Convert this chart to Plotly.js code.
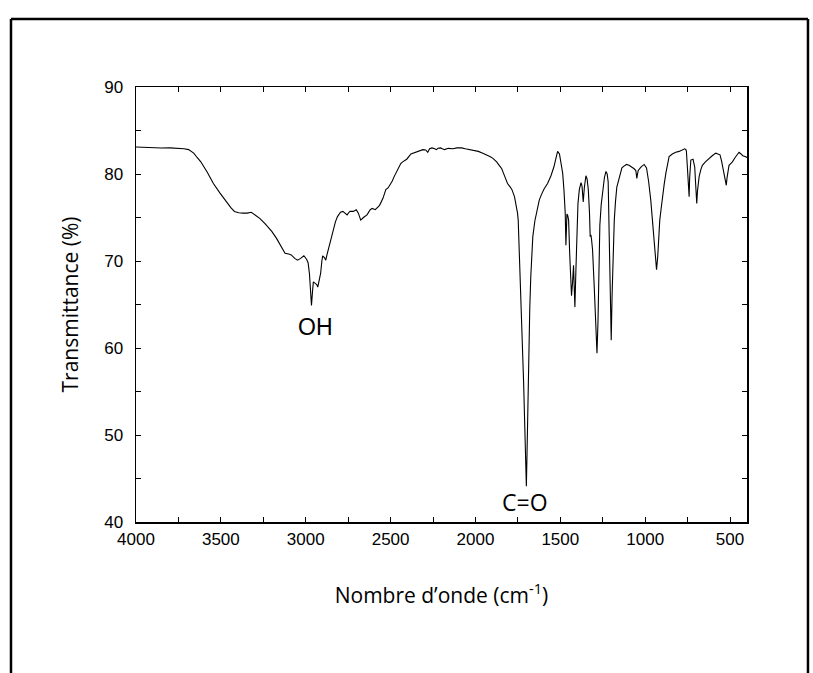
<!DOCTYPE html>
<html>
<head>
<meta charset="utf-8">
<script src="https://cdn.plot.ly/plotly-3.0.1.min.js"></script>
<style>
html,body{margin:0;padding:0;background:#fff;}
#chart{width:813px;height:673px;}
</style>
</head>
<body>
<div id="chart"></div>
<script>
// Wavenumber (cm-1) and transmittance (%)
const wavenumber = [
4000,3950,3900,3850,3800,3750,3717,3690,3660,3640,3618,3580,3544,3505,3469,3440,3420,3395,3370,3345,
3321,3300,3271,3240,3200,3172,3140,3122,3100,3085,3065,3048,3030,3011,2995,2986,2978,2974,2966,2960,
2955,2942,2935,2929,2920,2912,2905,2900,2890,2882,2875,2870,2862,2850,2838,2825,2813,2795,2781,2770,
2756,2745,2739,2720,2702,2690,2676,2660,2639,2620,2608,2590,2575,2565,2545,2528,2515,2504,2490,2479,
2465,2454,2440,2429,2405,2380,2355,2330,2310,2293,2281,2270,2256,2240,2231,2220,2206,2195,2182,2160,
2132,2110,2082,2060,2033,2010,1983,1960,1934,1915,1897,1875,1860,1845,1835,1820,1811,1795,1785,1770,
1761,1752,1748,1744,1741,1735,1729,1722,1716,1708,1702,1700,1696,1690,1686,1680,1674,1668,1662,1650,
1637,1624,1612,1595,1575,1555,1538,1525,1516,1505,1495,1486,1478,1471,1467,1463,1461,1456,1451,1445,
1440,1434,1428,1422,1418,1414,1408,1402,1396,1388,1378,1372,1365,1358,1349,1342,1335,1328,1324,1320,
1316,1310,1300,1290,1284,1278,1272,1267,1259,1251,1240,1231,1224,1218,1212,1206,1200,1195,1189,1182,
1175,1167,1160,1153,1145,1137,1125,1110,1095,1078,1065,1055,1049,1045,1041,1025,1006,992,980,967,
955,947,940,933,926,920,914,906,898,888,878,868,859,840,820,800,785,767,760,757,
752,748,744,741,738,735,731,718,712,708,703,699,696,692,688,682,672,663,645,624,
605,584,570,559,550,545,535,528,522,518,512,506,496,486,470,455,447,435,425,412,400
];
const transmittance = [
83.1,83.05,83.0,82.98,83.0,82.98,82.9,82.8,82.4,81.9,81.4,80.2,78.9,77.8,76.8,76.1,75.7,75.55,75.5,75.5,
75.6,75.3,74.9,74.3,73.4,72.6,71.6,70.9,70.8,70.7,70.3,70.1,70.3,70.6,70.2,69.8,68.5,67.4,64.9,66.5,
67.6,67.4,67.3,67.0,67.8,68.6,70.0,70.6,70.4,70.1,70.7,71.1,71.5,72.6,73.6,74.5,75.1,75.6,75.7,75.5,
75.3,75.6,75.7,75.7,75.9,75.5,74.7,75.0,75.3,75.9,76.05,75.9,76.2,76.4,77.2,78.2,78.4,78.7,79.2,79.7,
80.3,80.8,81.2,81.4,81.7,82.3,82.5,82.7,82.8,82.76,82.5,82.9,83.0,82.9,82.8,82.95,83.0,82.9,82.8,82.95,
82.9,83.0,83.0,82.9,82.8,82.75,82.6,82.4,82.2,82.0,81.8,81.4,81.0,80.6,80.1,79.4,78.9,78.5,78.2,77.4,
76.6,75.5,74.7,72.5,69.8,67.5,65.1,60.5,55.9,50.0,46.0,44.1,48.0,55.0,59.8,64.5,68.2,70.8,72.8,74.6,
75.9,77.0,77.6,78.3,78.9,79.8,80.8,81.9,82.6,82.3,81.3,80.1,78.0,75.5,71.8,74.0,75.4,75.2,74.7,71.0,
68.0,66.0,67.5,69.5,67.0,64.7,69.0,73.0,76.6,78.2,79.0,78.6,76.8,78.5,79.8,79.4,78.2,75.5,72.8,73.0,
72.5,71.3,67.0,62.0,59.4,63.0,69.0,74.1,76.5,78.2,79.6,80.3,80.0,79.1,74.0,66.0,60.9,66.0,72.0,74.7,
76.8,78.5,79.0,79.5,80.2,80.7,80.9,81.1,81.0,80.8,80.6,80.4,79.5,80.0,80.4,80.8,81.1,80.7,79.2,77.0,
74.5,72.4,70.5,69.0,70.5,73.0,74.7,76.0,77.0,78.8,80.1,81.3,82.0,82.3,82.5,82.6,82.7,82.9,82.8,82.6,
81.0,79.0,77.6,77.4,79.5,81.3,81.6,81.7,81.3,80.8,79.0,77.0,76.6,78.0,79.2,79.7,80.5,81.0,81.4,81.8,
82.1,82.4,82.3,82.2,81.5,81.0,80.2,79.2,78.7,79.5,80.5,81.0,81.2,81.4,81.9,82.3,82.5,82.3,82.1,82.0,81.9
];
// Band labels: [text, wavenumber, transmittance]
const bandLabels = ["OH", "C=O"];
const bandX = [2941, 1708];
const bandY = [62.4, 42.3];

const trace = {
  x: wavenumber, y: transmittance, type: 'scatter', mode: 'lines',
  line: {color: '#000', width: 1.1}, hoverinfo: 'x+y', showlegend: false
};

const frame = {type: 'line', xref: 'paper', yref: 'paper', line: {color: '#000', width: 2.5}};
const layout = {
  width: 813, height: 673,
  margin: {l: 136, r: 66, t: 87, b: 151},
  paper_bgcolor: '#fff', plot_bgcolor: '#fff',
  showlegend: false,
  xaxis: {
    range: [4000, 400], tickvals: [4000,3500,3000,2500,2000,1500,1000,500],
    ticks: 'inside', ticklen: 5, tickcolor: '#000', tickwidth: 1,
    minor: {dtick: 250, tick0: 0, ticks: 'inside', ticklen: 5, tickcolor: '#000'},
    showline: true, linecolor: '#000', linewidth: 1.5, mirror: 'allticks',
    showgrid: false, zeroline: false,
    tickfont: {family: 'Liberation Sans, Arial, sans-serif', size: 17, color: '#000'},
    ticklabelstandoff: 1,
    title: {text: 'Nombre d\u2019onde (cm<sup>-1</sup>)', standoff: 40,
            font: {family: 'Open Sans, sans-serif', size: 21, color: '#000'}}
  },
  yaxis: {
    range: [40, 90], dtick: 10, tick0: 0,
    ticks: 'inside', ticklen: 5, tickcolor: '#000', tickwidth: 1,
    minor: {dtick: 5, tick0: 0, ticks: 'inside', ticklen: 5, tickcolor: '#000'},
    showline: true, linecolor: '#000', linewidth: 1.5, mirror: 'allticks',
    showgrid: false, zeroline: false,
    tickfont: {family: 'Liberation Sans, Arial, sans-serif', size: 17, color: '#000'},
    ticklabelstandoff: 8,
    title: {text: 'Transmittance (%)', standoff: 20,
            font: {family: 'Open Sans, sans-serif', size: 21, color: '#000'}}
  },
  annotations: [
    {x: bandX[0], y: bandY[0], xref: 'x', yref: 'y', text: bandLabels[0], showarrow: false,
     font: {family: 'Liberation Sans, Arial, sans-serif', size: 23, color: '#000'}},
    {x: bandX[1], y: bandY[1], xref: 'x', yref: 'y', text: bandLabels[1], showarrow: false,
     font: {family: 'Open Sans, sans-serif', size: 23, color: '#000'}}
  ],
  shapes: [
    Object.assign({x0: -0.2046, x1: 1.0998, y0: 1.1563, y1: 1.1563}, frame),
    Object.assign({x0: -0.2046, x1: -0.2046, y0: 1.1563, y1: -0.36}, frame),
    Object.assign({x0: 1.0998, x1: 1.0998, y0: 1.1563, y1: -0.36}, frame)
  ]
};

Plotly.newPlot('chart', [trace], layout, {displayModeBar: false, staticPlot: true});
</script>
</body>
</html>
